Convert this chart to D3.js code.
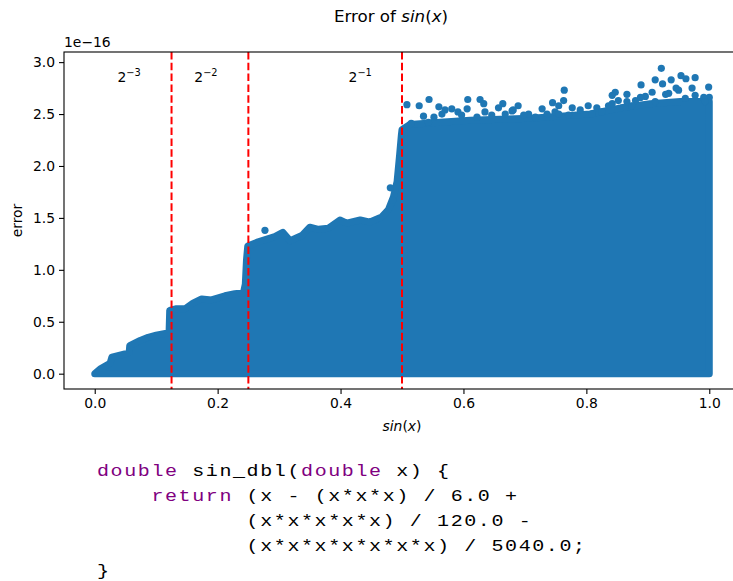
<!DOCTYPE html>
<html>
<head>
<meta charset="utf-8">
<script src="https://cdn.jsdelivr.net/npm/d3@7"></script>
<style>
  body { margin: 0; background: #fff; }
  svg { display: block; }
</style>
</head>
<body>
<svg id="chart" width="733" height="581"></svg>
<script>
// upper edge of the dense scatter band (sin(x), error in 1e-16)
const envX = [0, 0.010, 0.025, 0.028, 0.049, 0.056, 0.057, 0.074, 0.087, 0.100, 0.117, 0.121,
  0.122, 0.133, 0.147, 0.160, 0.174, 0.190, 0.212, 0.228, 0.242, 0.245, 0.247, 0.249,
  0.266, 0.293, 0.306, 0.318, 0.337, 0.350, 0.364, 0.380, 0.399, 0.410, 0.432, 0.448,
  0.467, 0.478, 0.486, 0.492, 0.496, 0.499, 0.500, 0.513, 0.562, 0.611, 0.660, 0.709,
  0.758, 0.806, 0.856, 0.904, 0.953, 1.000];
const envY = [0, 0.05, 0.10, 0.16, 0.19, 0.20, 0.27, 0.32, 0.35, 0.37, 0.39, 0.40,
  0.61, 0.625, 0.625, 0.68, 0.72, 0.71, 0.75, 0.77, 0.78, 0.86, 1.10, 1.23,
  1.27, 1.32, 1.36, 1.28, 1.33, 1.41, 1.39, 1.40, 1.48, 1.45, 1.48, 1.46,
  1.51, 1.58, 1.70, 1.85, 2.10, 2.30, 2.35, 2.40, 2.42, 2.44, 2.45, 2.46,
  2.48, 2.50, 2.56, 2.60, 2.62, 2.62];

// points sticking out above the band
const outX = [0.277, 0.481, 0.485, 0.508, 0.528, 0.544, 0.560, 0.535, 0.607, 0.627, 0.633,
  0.664, 0.657, 0.689, 0.606, 0.581, 0.728, 0.745, 0.755, 0.706, 0.679, 0.764, 0.763,
  0.777, 0.803, 0.817, 0.847, 0.842, 0.866, 0.889, 0.896, 0.912, 0.922, 0.924, 0.938,
  0.954, 0.962, 0.977, 0.972, 0.946, 0.999, 1.000, 0.991, 0.929, 0.880, 0.836, 0.866,
  0.515, 0.543, 0.552, 0.565, 0.570, 0.591, 0.597, 0.622, 0.635, 0.646, 0.668, 0.681,
  0.698, 0.717, 0.736, 0.749, 0.755, 0.771, 0.790, 0.809, 0.825, 0.842, 0.852, 0.874,
  0.888, 0.907, 0.912, 0.934, 0.950, 0.961, 0.977, 0.993];
const outY = [1.38, 1.79, 1.67, 2.59, 2.58, 2.64, 2.57, 2.48, 2.64, 2.64, 2.60,
  2.60, 2.56, 2.58, 2.55, 2.55, 2.55, 2.61, 2.58, 2.50, 2.53, 2.73, 2.63,
  2.56, 2.58, 2.56, 2.71, 2.68, 2.69, 2.78, 2.67, 2.83, 2.94, 2.79, 2.83,
  2.87, 2.84, 2.85, 2.75, 2.75, 2.76, 2.66, 2.66, 2.69, 2.63, 2.58, 2.62,
  2.41, 2.42, 2.47, 2.50, 2.54, 2.52, 2.49, 2.47, 2.52, 2.49, 2.50, 2.54,
  2.49, 2.47, 2.50, 2.52, 2.50, 2.49, 2.54, 2.50, 2.52, 2.60, 2.63, 2.58,
  2.66, 2.71, 2.62, 2.70, 2.73, 2.65, 2.68, 2.62];

const splitX = [0.125, 0.25, 0.5];
const splitLabels = ["−3", "−2", "−1"];
const labelX = [0.037, 0.162, 0.413];
const labelY = 2.81;

const xTicks = [0, 0.2, 0.4, 0.6, 0.8, 1.0];
const yTicks = [0, 0.5, 1.0, 1.5, 2.0, 2.5, 3.0];

const codeLines = [
  [["double", "kw"], [" sin_dbl(", ""], ["double", "kw"], [" x) {", ""]],
  [["    ", ""], ["return", "kw"], [" (x - (x*x*x) / 6.0 +", ""]],
  [["           (x*x*x*x*x) / 120.0 -", ""]],
  [["           (x*x*x*x*x*x*x) / 5040.0;", ""]],
  [["}", ""]]
];

const svg = d3.select("#chart");
const blue = "#1f77b4";
const font = "DejaVu Sans, sans-serif";

const margin = {left: 64, top: 52, right: 740, bottom: 389};
const x = d3.scaleLinear().domain([-0.05, 1.05]).range([margin.left, margin.right]);
const y = d3.scaleLinear().domain([-0.1475, 3.0975]).range([margin.bottom, margin.top]);

const band = envX.map((v, i) => ({x: v, y: envY[i]}));
const area = d3.area()
  .x(d => x(d.x))
  .y0(y(0))
  .y1(d => y(d.y));

// dense band, stroke widens it by one marker radius
svg.append("path").datum(band)
  .attr("d", area)
  .attr("fill", blue)
  .attr("stroke", blue)
  .attr("stroke-width", 7)
  .attr("stroke-linejoin", "round");

svg.append("g").selectAll("circle")
  .data(outX.map((v, i) => ({x: v, y: outY[i]})))
  .join("circle")
  .attr("cx", d => x(d.x))
  .attr("cy", d => y(d.y))
  .attr("r", 3.6)
  .attr("fill", blue);

// dashed split lines
svg.append("g").selectAll("line")
  .data(splitX)
  .join("line")
  .attr("x1", d => x(d)).attr("x2", d => x(d))
  .attr("y1", margin.top).attr("y2", margin.bottom)
  .attr("stroke", "red")
  .attr("stroke-width", 2)
  .attr("stroke-dasharray", "7.5,3.3");

const labels = svg.append("g").selectAll("text")
  .data(splitLabels)
  .join("text")
  .attr("x", (d, i) => x(labelX[i]))
  .attr("y", y(labelY))
  .attr("font-family", font)
  .attr("font-size", 13.9);
labels.append("tspan").text("2");
labels.append("tspan").attr("dy", -6).attr("font-size", 9.8).text(d => d);

// axes
const xAxis = svg.append("g")
  .attr("transform", `translate(0,${margin.bottom})`)
  .call(d3.axisBottom(x).tickValues(xTicks).tickFormat(d3.format(".1f")).tickSize(5).tickPadding(4));
const yAxis = svg.append("g")
  .attr("transform", `translate(${margin.left},0)`)
  .call(d3.axisLeft(y).tickValues(yTicks).tickFormat(d3.format(".1f")).tickSize(5).tickPadding(4));
[xAxis, yAxis].forEach(a => {
  a.select(".domain").remove();
  a.selectAll("text").attr("font-family", font).attr("font-size", 13.9).attr("fill", "#000");
  a.selectAll("line").attr("stroke", "#000").attr("stroke-width", 1.1);
});

svg.append("rect")
  .attr("x", margin.left).attr("y", margin.top)
  .attr("width", margin.right - margin.left).attr("height", margin.bottom - margin.top)
  .attr("fill", "none").attr("stroke", "#000").attr("stroke-width", 1.1);

svg.append("text")
  .attr("x", margin.left).attr("y", 47)
  .attr("font-family", font).attr("font-size", 13.9)
  .text("1e−16");

svg.append("text")
  .attr("transform", `translate(22,${(margin.top + margin.bottom) / 2}) rotate(-90)`)
  .attr("text-anchor", "middle")
  .attr("font-family", font).attr("font-size", 13.9)
  .text("error");

const xl = svg.append("text")
  .attr("x", (margin.left + margin.right) / 2).attr("y", 431)
  .attr("text-anchor", "middle")
  .attr("font-family", font).attr("font-size", 13.9);
xl.append("tspan").attr("font-style", "italic").text("sin");
xl.append("tspan").text("(");
xl.append("tspan").attr("font-style", "italic").text("x");
xl.append("tspan").text(")");

const title = svg.append("text")
  .attr("x", 391).attr("y", 22)
  .attr("text-anchor", "middle")
  .attr("font-family", font).attr("font-size", 16.7);
title.append("tspan").text("Error of ");
title.append("tspan").attr("font-style", "italic").text("sin");
title.append("tspan").text("(");
title.append("tspan").attr("font-style", "italic").text("x");
title.append("tspan").text(")");

// code listing, monospace stretched a bit wider
const code = svg.append("g")
  .attr("transform", "translate(97,0) scale(1.25,1)")
  .selectAll("text")
  .data(codeLines)
  .join("text")
  .attr("x", 0)
  .attr("y", (d, i) => 476 + i * 25)
  .attr("font-family", "Liberation Mono, monospace")
  .attr("font-size", 16)
  .attr("letter-spacing", 1.28)
  .attr("xml:space", "preserve")
  .style("white-space", "pre");
code.selectAll("tspan")
  .data(d => d)
  .join("tspan")
  .attr("fill", d => d[1] === "kw" ? "#800080" : "#000")
  .text(d => d[0]);
</script>
</body>
</html>
